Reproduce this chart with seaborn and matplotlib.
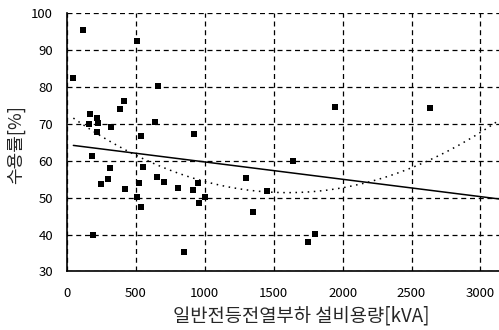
import numpy as np
import pandas as pd
import matplotlib
matplotlib.use("Agg")
import matplotlib.pyplot as plt
import seaborn as sns

# capacity [kVA]
capacity = [114, 506, 46, 658, 416, 387, 167, 215, 162, 223, 319, 636, 215, 539,
            919, 179, 554, 314, 300, 244, 423, 520, 653, 704, 803, 917, 951, 508,
            1005, 535, 960, 1299, 1454, 1350, 191, 851, 1947, 2637, 1642, 1800, 1751]
# demand factor [%]
demand = [95.6, 92.4, 82.5, 80.2, 76.1, 74.0, 72.7, 71.7, 70.1, 70.2, 69.1, 70.5,
          67.9, 66.7, 67.4, 61.3, 58.4, 58.0, 55.0, 53.6, 52.3, 53.9, 55.5, 54.3,
          52.6, 52.2, 53.9, 50.1, 50.1, 47.4, 48.5, 55.3, 51.9, 46.2, 40.0, 35.3,
          74.5, 74.2, 60.0, 40.1, 38.0]

# trend coefficients (highest power first)
linear_coef = [-0.0047, 64.4]
quad_coef = [8.35e-6, -0.02675, 72.8]

x_ticks = [0, 500, 1000, 1500, 2000, 2500, 3000]
y_ticks = [30, 40, 50, 60, 70, 80, 90, 100]

sns.set_theme(style="white")
plt.rcParams['font.family'] = ['Noto Sans CJK KR', 'DejaVu Sans']

fig = plt.figure(figsize=(4.99, 3.30), dpi=100)
ax = fig.add_axes([0.1343, 0.1773, 0.8657, 0.7824])

df = pd.DataFrame({"x": capacity, "y": demand})
sns.scatterplot(data=df, x="x", y="y", marker="s", s=16, color="black",
                edgecolor="black", linewidth=0, ax=ax, zorder=5)

xs = np.linspace(min(capacity), 3200, 200)
fit = pd.DataFrame({"x": xs,
                    "lin": np.polyval(linear_coef, xs),
                    "quad": np.polyval(quad_coef, xs)})
sns.lineplot(data=fit, x="x", y="lin", color="black", linewidth=1.1, ax=ax, zorder=4)
sns.lineplot(data=fit, x="x", y="quad", color="black", linewidth=1.1, ax=ax,
             linestyle=(0, (1, 3)), zorder=4)

ax.set_xlim(0, 3135)
ax.set_ylim(30, 100)
ax.set_xticks(x_ticks)
ax.set_yticks(y_ticks)
ax.set_xticklabels([str(v) for v in x_ticks])
ax.set_yticklabels([str(v) for v in y_ticks])
ax.tick_params(axis="both", length=0, labelsize=9.5, colors="black")
ax.tick_params(axis="x", pad=11)
ax.tick_params(axis="y", pad=10)

ax.grid(True, color="black", linestyle=(0, (4, 3)), linewidth=0.9)
for s in ["top", "right"]:
    ax.spines[s].set_visible(False)
for s in ["left", "bottom"]:
    ax.spines[s].set_color("black")
    ax.spines[s].set_linewidth(1.2)
    ax.spines[s].set_zorder(6)

ax.set_xlabel("일반전등전열부하 설비용량[kVA]", fontsize=13.5)
ax.set_ylabel("수용률[%]", fontsize=13)
ax.xaxis.set_label_coords(0.542, -0.132)
ax.yaxis.set_label_coords(-0.098, 0.49)

fig.savefig("out.png", dpi=100)
